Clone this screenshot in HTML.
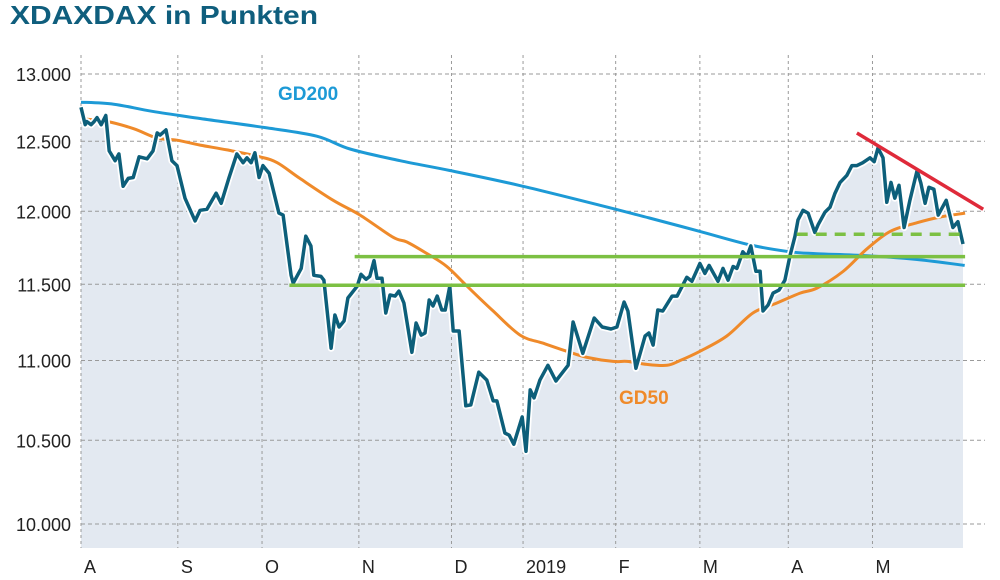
<!DOCTYPE html>
<html><head><meta charset="utf-8"><style>
html,body{margin:0;padding:0;background:#fff;}
svg{display:block;font-family:"Liberation Sans",sans-serif;}
</style></head><body>
<svg id="chart" width="1000" height="580" viewBox="0 0 1000 580">
<text x="10" y="24" font-size="26" font-weight="bold" fill="#0f5e7d" textLength="308" lengthAdjust="spacingAndGlyphs">XDAXDAX in Punkten</text>
<g id="plot"></g>
</svg>
<script>
const yTicks = [13000, 12500, 12000, 11500, 11000, 10500, 10000];
const yTickLabels = ["13.000", "12.500", "12.000", "11.500", "11.000", "10.500", "10.000"];
const monthStarts = [0, 23, 43, 66, 88, 105, 127, 147, 168, 188];
const monthLabels = ["A", "S", "O", "N", "D", "2019", "F", "M", "A", "M"];
const closeDays = [0,1,1.4,2.4,3.1,3.8,4.8,5.9,6.7,8.1,9,10,11.2,12.4,13.8,15.7,17.1,18.1,18.8,20.2,21.6,22.8,24.7,27.1,28.3,29.9,32.1,33.3,35.1,37,38.5,39.4,40.4,41.3,42.3,43.2,44.7,47,48,49.9,50.4,52.3,53.4,54.6,55.3,57,57.7,59.4,60.3,61.3,62.5,63.4,65.6,66.5,67.7,68.6,69.6,70.3,71.5,72.4,73.4,74.6,75.5,76.7,78.6,79.6,80.8,81.7,82.7,83.6,84.6,85.7,86.5,87.6,88.4,89.8,91.4,92.6,94.5,96.4,97.9,98.8,100.7,101.7,102.8,104.8,105.7,106.7,107.6,109,110.9,112.8,115.7,116.9,119.2,121.9,123.8,125.9,127.3,129,129.9,131.8,134,134.9,135.9,137,138.2,140.4,141.6,143.9,145.1,147,148.2,149.2,151.3,152.5,153.7,154.9,155.8,157.2,158.2,159.1,160.3,161.3,162,163.2,164.4,165.8,167.2,168.4,169.6,170.3,171.5,172.7,174.3,175.1,176.7,177.9,179.1,180.3,181.9,183.1,184.3,185.7,187.4,188.4,189.3,190.5,191.4,192.4,193.3,194.3,195.5,196.9,198.6,199.5,200.5,201.4,202.6,203.6,205.5,207.1,208.3,209.5];
const closeValues = [12750,12621,12644,12621,12644,12674,12621,12689,12430,12359,12408,12176,12232,12239,12387,12373,12430,12561,12545,12583,12359,12324,12092,11933,12007,12014,12127,12056,12232,12408,12345,12380,12345,12416,12239,12324,12268,11987,11973,11560,11507,11607,11827,11760,11560,11553,11527,11079,11296,11217,11257,11408,11487,11567,11533,11553,11660,11540,11540,11309,11428,11421,11454,11375,11053,11243,11164,11178,11395,11355,11421,11329,11329,11487,11191,11191,10713,10719,10925,10875,10744,10744,10544,10531,10476,10644,10433,10813,10763,10875,10969,10869,10969,11250,11046,11276,11217,11204,11217,11382,11322,10950,11158,11178,11099,11329,11322,11421,11421,11547,11520,11640,11573,11627,11520,11607,11527,11620,11607,11720,11687,11760,11587,11587,11322,11362,11441,11461,11527,11693,11827,11940,12007,11987,11853,11907,11993,12028,12127,12204,12254,12324,12324,12345,12380,12352,12451,12380,12063,12204,12092,12183,11887,12077,12289,12197,12056,12169,12155,11973,12077,11887,11927,11773];
const gd200Days = [0,7.8,16.9,28.3,44.2,56,63.9,75.8,87.6,104,123.3,135,147,158.9,168.4,174.8,186.7,198.6,209.9];
const gd200Values = [12788,12773,12720,12667,12598,12537,12444,12359,12289,12183,12042,11953,11860,11767,11720,11707,11693,11667,11627];
const gd50Days = [0,6.4,12.6,18.1,22.8,28.3,34.7,42.5,46.6,52,59.9,66.3,74.1,77.4,82.2,86.9,91.7,97.9,104.3,109.7,115.4,120.2,126.4,129.7,134.4,139.2,142.3,147,153.4,159.6,165.3,170.8,174.8,181,186.7,192.2,198.6,204.1,210];
const gd50Values = [12666,12644,12591,12523,12508,12472,12437,12387,12345,12232,12077,11973,11820,11787,11707,11620,11487,11322,11164,11112,11059,11020,10994,10994,10975,10969,11000,11059,11158,11309,11375,11441,11474,11586,11740,11860,11920,11960,11987];
const supportUpper = {from: 65, to: 210, value: 11687};
const supportLower = {from: 49.5, to: 210, value: 11493};
const supportDashed = {from: 170, to: 210, value: 11840};
const trendDays = [184.3, 214.3];
const trendValues = [12560, 12014];

const NS = "http://www.w3.org/2000/svg";
const X0 = 81, PX_PER_DAY = 4.21, Y13 = 74, K = 1715;
const PLOT_TOP = 55, PLOT_BOTTOM = 548;
function xs(d){ return X0 + d * PX_PER_DAY; }
function ys(v){ return Y13 + K * Math.log(13000 / v); }
const plot = document.getElementById('plot');
function mk(tag, attrs, parent){
  const e = document.createElementNS(NS, tag);
  for (const k in attrs) e.setAttribute(k, attrs[k]);
  (parent || plot).appendChild(e);
  return e;
}
function pathOf(days, vals){
  return days.map((d,i)=>(i?'L':'M') + xs(d).toFixed(1) + ',' + ys(vals[i]).toFixed(1)).join(' ');
}
function smoothPath(days, vals){
  const p = days.map((d,i)=>[xs(d), ys(vals[i])]);
  let s = 'M' + p[0][0].toFixed(1) + ',' + p[0][1].toFixed(1);
  for (let i = 0; i < p.length - 1; i++){
    const p0 = p[Math.max(0,i-1)], p1 = p[i], p2 = p[i+1], p3 = p[Math.min(p.length-1,i+2)];
    const c1x = p1[0] + (p2[0]-p0[0])/6, c1y = p1[1] + (p2[1]-p0[1])/6;
    const c2x = p2[0] - (p3[0]-p1[0])/6, c2y = p2[1] - (p3[1]-p1[1])/6;
    s += ' C' + c1x.toFixed(1) + ',' + c1y.toFixed(1) + ' ' + c2x.toFixed(1) + ',' + c2y.toFixed(1) + ' ' + p2[0].toFixed(1) + ',' + p2[1].toFixed(1);
  }
  return s;
}

const lastX = xs(closeDays[closeDays.length-1]);
const area = mk('path', {d: pathOf(closeDays, closeValues) + ' L' + lastX + ',' + PLOT_BOTTOM + ' L' + X0 + ',' + PLOT_BOTTOM + ' Z', fill: '#e3e9f1'});



yTicks.forEach((t, i) => {
  const y = ys(t);
  const gl = mk('line', {x1: X0, x2: 985, y1: y, y2: y, stroke: '#9a9a9a', 'stroke-width': 1, 'stroke-dasharray': '4 3'});
  
  
  const tx = mk('text', {x: 71, y: y + 7, 'text-anchor': 'end', 'font-size': 18, fill: '#222'});
  tx.textContent = yTickLabels[i];
  
  
});
monthStarts.forEach((d, i) => {
  const x = xs(d);
  const gl = mk('line', {x1: x, x2: x, y1: PLOT_TOP, y2: PLOT_BOTTOM, stroke: '#9a9a9a', 'stroke-width': 1, 'stroke-dasharray': '3 3'});
  
  
  const tx = mk('text', {x: x + 3, y: 573, 'font-size': 18, fill: '#222'});
  tx.textContent = monthLabels[i];
  
  
});

const g200 = mk('path', {d: smoothPath(gd200Days, gd200Values), fill: 'none', stroke: '#1d9ad6', 'stroke-width': 3, 'stroke-linejoin': 'round'});


const g50 = mk('path', {d: smoothPath(gd50Days, gd50Values), fill: 'none', stroke: '#ef8a2a', 'stroke-width': 3, 'stroke-linejoin': 'round'});



const halo = mk('path', {d: pathOf(closeDays, closeValues), fill: 'none', stroke: '#fff', 'stroke-width': 7, 'stroke-linejoin': 'round'});


const close = mk('path', {d: pathOf(closeDays, closeValues), fill: 'none', stroke: '#0d5f7a', 'stroke-width': 3.5, 'stroke-linejoin': 'round'});



function hline(s, dash, name){
  const l = mk('line', {x1: xs(s.from), x2: xs(s.to), y1: ys(s.value), y2: ys(s.value), stroke: '#7cc043', 'stroke-width': 3.5});
  if (dash) l.setAttribute('stroke-dasharray', dash);
  
  
}
hline(supportUpper, null, 'support-line-upper');
hline(supportLower, null, 'support-line-lower');
hline(supportDashed, '11 8', 'support-line-dashed');

const tr = mk('line', {x1: xs(trendDays[0]), y1: ys(trendValues[0]), x2: xs(trendDays[1]), y2: ys(trendValues[1]), stroke: '#df2a3a', 'stroke-width': 3.5});



const l200 = mk('text', {x: 278, y: 100, 'font-size': 19, 'font-weight': 'bold', fill: '#1d9ad6'});
l200.textContent = 'GD200';


const l50 = mk('text', {x: 619, y: 404, 'font-size': 19, 'font-weight': 'bold', fill: '#ef8a2a'});
l50.textContent = 'GD50';


</script>
</body></html>
